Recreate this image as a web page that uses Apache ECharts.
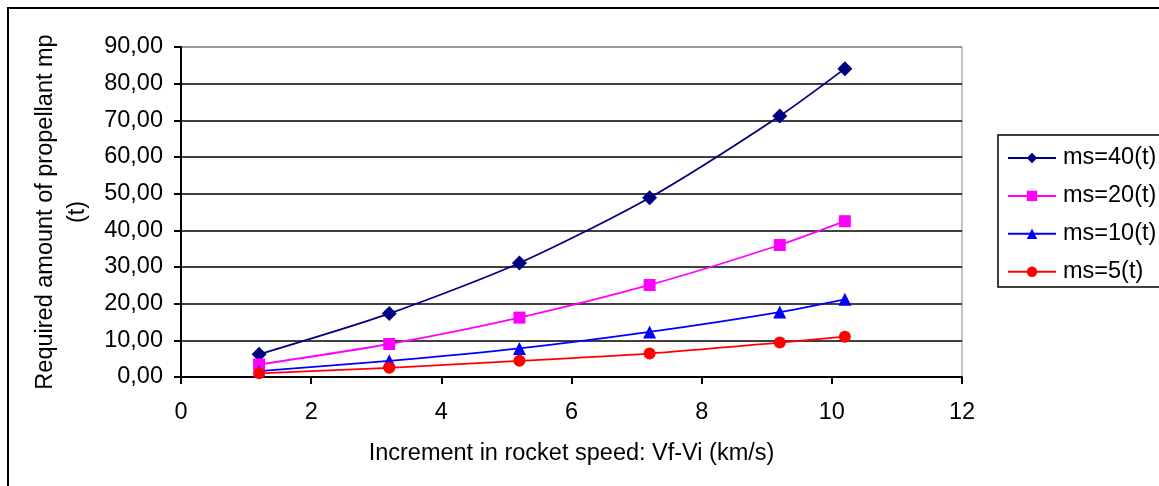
<!DOCTYPE html>
<html>
<head>
<meta charset="utf-8">
<script src="https://cdn.jsdelivr.net/npm/echarts@6/dist/echarts.min.js"></script>
<style>
  html, body { margin: 0; padding: 0; background: #fff; }
  #chart { width: 1159px; height: 486px; }
</style>
</head>
<body>
<div id="chart"></div>
<script>
// Increment in rocket speed (km/s)
const speedIncrement = [1.2, 3.2, 5.2, 7.2, 9.2, 10.2];
// Required propellant mass (t) for each structural mass ms
const ms40 = [6.2, 17.3, 31.1, 48.9, 71.2, 84.1];
const ms20 = [3.4, 9.0, 16.2, 25.1, 36.0, 42.5];
const ms10 = [1.6, 4.4, 7.8, 12.3, 17.7, 21.2];
const ms5  = [1.0, 2.5, 4.4, 6.4, 9.4, 11.0];
const seriesNames = ['ms=40(t)', 'ms=20(t)', 'ms=10(t)', 'ms=5(t)'];

const FONT = '"Liberation Sans", Arial, sans-serif';
const FS = 23.5;

function pairs(ys) {
  return speedIncrement.map((x, i) => [x, ys[i]]);
}

function lineSeries(name, ys, color, symbol, size) {
  return {
    name: name,
    type: 'line',
    data: pairs(ys),
    smooth: 0.25,
    symbol: symbol,
    symbolSize: size,
    showAllSymbol: true,
    lineStyle: { color: color, width: 1.8 },
    itemStyle: { color: color },
    emphasis: { disabled: true }
  };
}

// top gridline drawn grey like the plot frame, others black
const gridColors = ['#000', '#000', '#000', '#000', '#000', '#000', '#000', '#000', '#000', '#8a8a8a'];

const chart = echarts.init(document.getElementById('chart'), null, { renderer: 'canvas' });
chart.setOption({
  animation: false,
  backgroundColor: '#fff',
  textStyle: { fontFamily: FONT },
  graphic: [
    { type: 'rect', shape: { x: 8, y: 8, width: 1170, height: 500 },
      style: { fill: 'none', stroke: '#000', lineWidth: 2 }, z: -1 },
    { type: 'rect', shape: { x: 998, y: 135, width: 180, height: 152 },
      style: { fill: '#fff', stroke: '#000', lineWidth: 1.5 }, z: 0 }
  ],
  grid: {
    left: 181, right: 197, top: 47, bottom: 109,
    show: true, borderColor: '#8a8a8a', borderWidth: 1, backgroundColor: '#fff'
  },
  legend: {
    orient: 'vertical',
    left: 1002, top: 141,
    itemWidth: 48, itemHeight: 13,
    itemGap: 13.9,
    data: seriesNames,
    textStyle: { fontFamily: FONT, fontSize: FS, color: '#000', lineHeight: 24, padding: [0, 0, 0, 2] },
    z: 5
  },
  xAxis: {
    type: 'value',
    min: 0, max: 12, interval: 2,
    name: 'Increment in rocket speed: Vf-Vi (km/s)',
    nameLocation: 'middle',
    nameGap: 65,
    nameTextStyle: { fontFamily: FONT, fontSize: FS, color: '#000' },
    axisLine: { show: true, onZero: false, lineStyle: { color: '#000', width: 2 } },
    axisTick: { show: true, inside: false, length: 7, lineStyle: { color: '#000', width: 2 } },
    axisLabel: { margin: 24, fontFamily: FONT, fontSize: FS, color: '#000' },
    splitLine: { show: false }
  },
  yAxis: {
    type: 'value',
    min: 0, max: 90, interval: 10,
    name: 'Required amount of propellant mp\n(t)',
    nameLocation: 'middle',
    nameRotate: 90,
    nameGap: 86,
    nameTextStyle: { fontFamily: FONT, fontSize: FS, color: '#000', lineHeight: 32 },
    axisLine: { show: true, onZero: false, lineStyle: { color: '#000', width: 2 } },
    axisTick: { show: true, inside: false, length: 7, lineStyle: { color: '#000', width: 2 } },
    axisLabel: {
      margin: 18, fontFamily: FONT, fontSize: FS, color: '#000',
      formatter: v => v.toFixed(2).replace('.', ',')
    },
    splitLine: { show: true, lineStyle: { color: gridColors, width: 1.6 } }
  },
  series: [
    lineSeries(seriesNames[0], ms40, '#000080', 'diamond', 15),
    lineSeries(seriesNames[1], ms20, '#ff00ff', 'rect', 12),
    lineSeries(seriesNames[2], ms10, '#0000ff', 'triangle', 13),
    lineSeries(seriesNames[3], ms5, '#ff0000', 'circle', 12)
  ]
});
</script>
</body>
</html>
